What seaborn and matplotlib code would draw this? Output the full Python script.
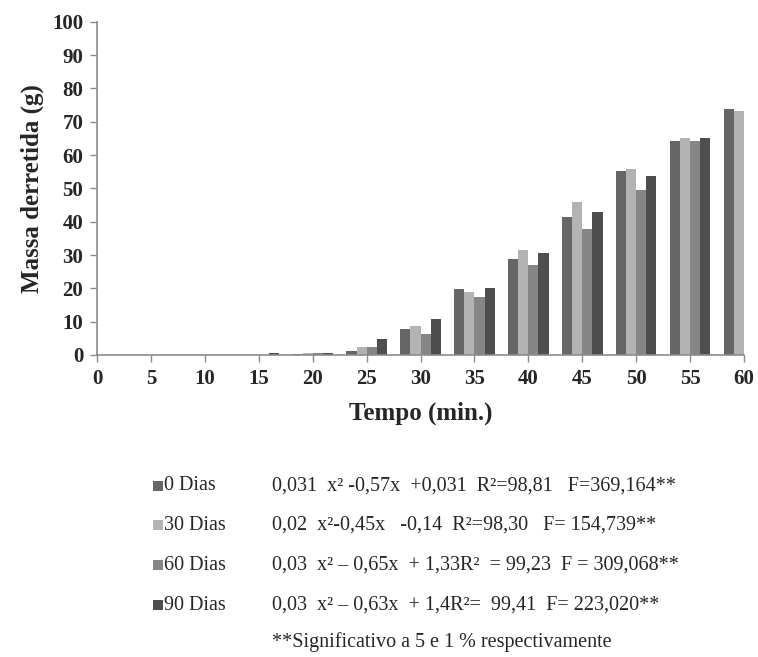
import matplotlib
matplotlib.use('Agg')

import pandas as pd
import matplotlib.pyplot as plt
import seaborn as sns
from matplotlib.patches import Rectangle

# dados
tempo = [0, 5, 10, 15, 20, 25, 30, 35, 40, 45, 50, 55, 60]
dias_0 = [0, 0, 0, 0, 0.4, 1.3, 7.7, 19.7, 28.7, 41.4, 55.2, 64.3, 73.7]
dias_30 = [0, 0, 0, 0, 0.5, 2.3, 8.7, 19.0, 31.6, 45.9, 55.8, 65.2, 73.1]
dias_60 = [0, 0, 0, 0, 0.5, 2.3, 6.2, 17.5, 26.9, 37.9, 49.4, 64.3, 72.5]
dias_90 = [0, 0, 0, 0.5, 0.5, 4.7, 10.7, 20.2, 30.6, 42.9, 53.8, 65.2, 74.0]

series = ["0 Dias", "30 Dias", "60 Dias", "90 Dias"]
cores = ["#666666", "#b3b3b3", "#868686", "#4e4e4e"]
equacoes = [
    "0,031  x² -0,57x  +0,031  R²=98,81   F=369,164**",
    "0,02  x²-0,45x   -0,14  R²=98,30   F= 154,739**",
    "0,03  x² – 0,65x  + 1,33R²  = 99,23  F = 309,068**",
    "0,03  x² – 0,63x  + 1,4R²=  99,41  F= 223,020**",
]
nota = "**Significativo a 5 e 1 % respectivamente"

df = pd.DataFrame({
    "tempo": tempo * 4,
    "massa": dias_0 + dias_30 + dias_60 + dias_90,
    "serie": [s for s in series for _ in tempo],
})

sns.set_style("white")
plt.rcParams['font.family'] = ['Liberation Serif', 'DejaVu Serif']

fig = plt.figure(figsize=(7.58, 6.57), dpi=100)
ax = fig.add_axes([0.128, 0.4597, 0.8536, 0.507])

sns.barplot(data=df, x="tempo", y="massa", hue="serie", order=tempo,
            hue_order=series, palette=cores, width=0.75, linewidth=0,
            legend=False, ax=ax)

# o eixo termina em 60, cortando metade do ultimo grupo
ax.set_xlim(0, 12)
ax.set_ylim(0, 100)
ax.set_yticks(range(0, 101, 10))
ax.set_xticks(range(len(tempo)))
ax.set_xticklabels([str(t) for t in tempo])

for lab in ax.get_xticklabels() + ax.get_yticklabels():
    lab.set_fontweight("bold")
    lab.set_fontsize(15)

ax.set_xlabel("Tempo (min.)", fontsize=18, fontweight="bold", labelpad=9)
ax.set_ylabel("Massa derretida (g)", fontsize=18, fontweight="bold", labelpad=6)

sns.despine(ax=ax)
for side in ["left", "bottom"]:
    ax.spines[side].set_color("#8c8c8c")
    ax.spines[side].set_linewidth(1.2)
ax.tick_params(axis="both", direction="out", length=5, width=1, color="#8c8c8c",
               left=True, bottom=True, pad=5)

# legenda manual com as equacoes
W, H = 758, 657
linhas_y = [486, 525, 565, 605]
for cor, nome, eq, yp in zip(cores, series, equacoes, linhas_y):
    fig.patches.append(Rectangle((153 / W, 1 - (yp + 5) / H), 10 / W, 10 / H,
                                 transform=fig.transFigure, facecolor=cor,
                                 edgecolor="none"))
    fig.text(164 / W, 1 - yp / H, nome, fontsize=14.5, va="center", ha="left")
    fig.text(272 / W, 1 - yp / H, eq, fontsize=14.5, va="center", ha="left")
fig.text(272 / W, 1 - 642 / H, nota, fontsize=14.5, va="center", ha="left")

fig.savefig("out.png", dpi=100)
plt.close(fig)
